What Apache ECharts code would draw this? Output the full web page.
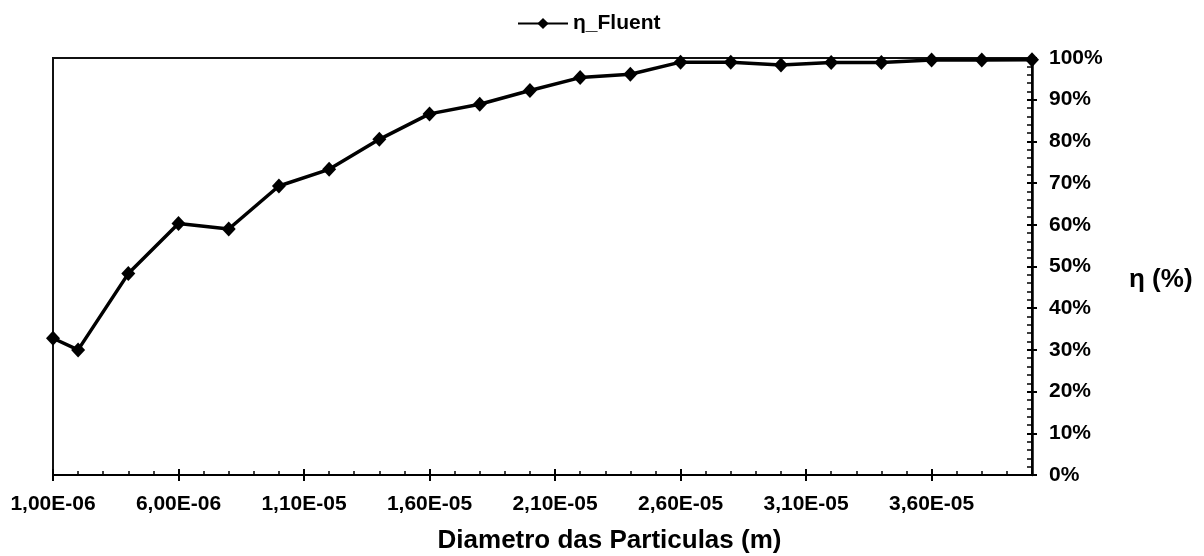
<!DOCTYPE html>
<html>
<head>
<meta charset="utf-8">
<script src="https://cdn.jsdelivr.net/npm/echarts@6/dist/echarts.min.js"></script>
<style>html,body{margin:0;padding:0;background:#fff}#c{width:1204px;height:556px}</style>
</head>
<body>
<div id="c"></div>
<script>
// Particle diameters (m)
var diameters = [1e-6, 2e-6, 4e-6, 6e-6, 8e-6, 1.0e-5, 1.2e-5, 1.4e-5, 1.6e-5, 1.8e-5, 2.0e-5,
                 2.2e-5, 2.4e-5, 2.6e-5, 2.8e-5, 3.0e-5, 3.2e-5, 3.4e-5, 3.6e-5, 3.8e-5, 4.0e-5];
// Efficiency η_Fluent (%)
var etaFluent = [32.8, 30.0, 48.3, 60.3, 59.0, 69.3, 73.3, 80.5, 86.6, 88.9, 92.2,
                 95.3, 96.1, 99.0, 99.0, 98.3, 98.9, 98.9, 99.5, 99.5, 99.6];
// Tick labels
var xMajorTicks = [1e-6, 6e-6, 1.1e-5, 1.6e-5, 2.1e-5, 2.6e-5, 3.1e-5, 3.6e-5];
var yTickLabels = ['0%','10%','20%','30%','40%','50%','60%','70%','80%','90%','100%'];

var seriesName = 'η_Fluent';
var xName = 'Diametro das Particulas (m)';
var yName = 'η (%)';

function fmtSci(v) {
  var e = Math.floor(Math.log10(v) + 1e-9);
  var m = v / Math.pow(10, e);
  var s = m.toFixed(2).replace('.', ',');
  return s + 'E' + (e < 0 ? '-' : '+') + String(Math.abs(e)).padStart(2, '0');
}

var FONT = 'Arial, "Liberation Sans", sans-serif';
var xMin = diameters[0], xMax = diameters[diameters.length - 1];

var chart = echarts.init(document.getElementById('c'), null, {renderer: 'canvas'});
chart.setOption({
  animation: false,
  backgroundColor: '#fff',
  legend: {
    left: 517, top: 13, padding: 0,
    itemWidth: 50, itemHeight: 14, itemGap: 6,
    textStyle: {fontFamily: FONT, fontWeight: 'bold', fontSize: 21, color: '#000'},
    data: [seriesName]
  },
  grid: {
    left: 53, right: 172, top: 58, bottom: 81,
    outerBoundsMode: 'none', containLabel: false,
    show: true, borderColor: '#111', borderWidth: 2, backgroundColor: 'transparent'
  },
  xAxis: [
    {
      type: 'value', min: xMin, max: xMax, position: 'bottom',
      name: xName, nameLocation: 'middle', nameGap: 53,
      nameTextStyle: {fontFamily: FONT, fontWeight: 'bold', fontSize: 26, color: '#000', padding: [0, 0, 0, 134]},
      axisLine: {show: true, onZero: false, lineStyle: {color: '#000', width: 2}},
      axisTick: {show: true, inside: false, length: 6, customValues: xMajorTicks, lineStyle: {color: '#000', width: 2}},
      axisLabel: {show: true, customValues: xMajorTicks, margin: 19, formatter: fmtSci,
        fontFamily: FONT, fontWeight: 'bold', fontSize: 21, color: '#000'},
      splitLine: {show: false}
    },
    {
      type: 'value', min: xMin, max: xMax, position: 'bottom',
      axisLine: {show: false, onZero: false},
      axisTick: {show: true, inside: true, length: 6, customValues: xMajorTicks, lineStyle: {color: '#000', width: 2}},
      axisLabel: {show: false},
      splitLine: {show: false}
    },
    {
      type: 'value', min: xMin, max: xMax, interval: 1e-6, position: 'bottom',
      axisLine: {show: false, onZero: false},
      axisTick: {show: true, inside: true, length: 4, lineStyle: {color: '#000', width: 1.5}},
      axisLabel: {show: false},
      splitLine: {show: false}
    }
  ],
  yAxis: [
    {
      type: 'value', min: 0, max: 100, interval: 10, position: 'right',
      name: yName, nameLocation: 'middle', nameRotate: 0, nameGap: 97,
      nameTextStyle: {fontFamily: FONT, fontWeight: 'bold', fontSize: 26, color: '#000', verticalAlign: 'top'},
      axisLine: {show: true, onZero: false, lineStyle: {color: '#000', width: 2.5}},
      axisTick: {show: true, inside: false, length: 5, lineStyle: {color: '#000', width: 2}},
      axisLabel: {show: true, margin: 17,
        formatter: function (v) { return yTickLabels[Math.round(v / 10)]; },
        fontFamily: FONT, fontWeight: 'bold', fontSize: 21, color: '#000'},
      splitLine: {show: false}
    },
    {
      type: 'value', min: 0, max: 100, interval: 10, position: 'right',
      axisLine: {show: false, onZero: false},
      axisTick: {show: true, inside: true, length: 5, lineStyle: {color: '#000', width: 2}},
      minorTick: {show: true, splitNumber: 5, length: 5, lineStyle: {color: '#000', width: 1.5}},
      axisLabel: {show: false},
      splitLine: {show: false}
    }
  ],
  series: [{
    name: seriesName,
    type: 'line',
    xAxisIndex: 0, yAxisIndex: 0,
    data: diameters.map(function (d, i) { return [d, etaFluent[i]]; }),
    symbol: 'diamond', symbolSize: [14, 15],
    lineStyle: {color: '#000', width: 3.5},
    itemStyle: {color: '#000'},
    clip: false
  }]
});
</script>
</body>
</html>
